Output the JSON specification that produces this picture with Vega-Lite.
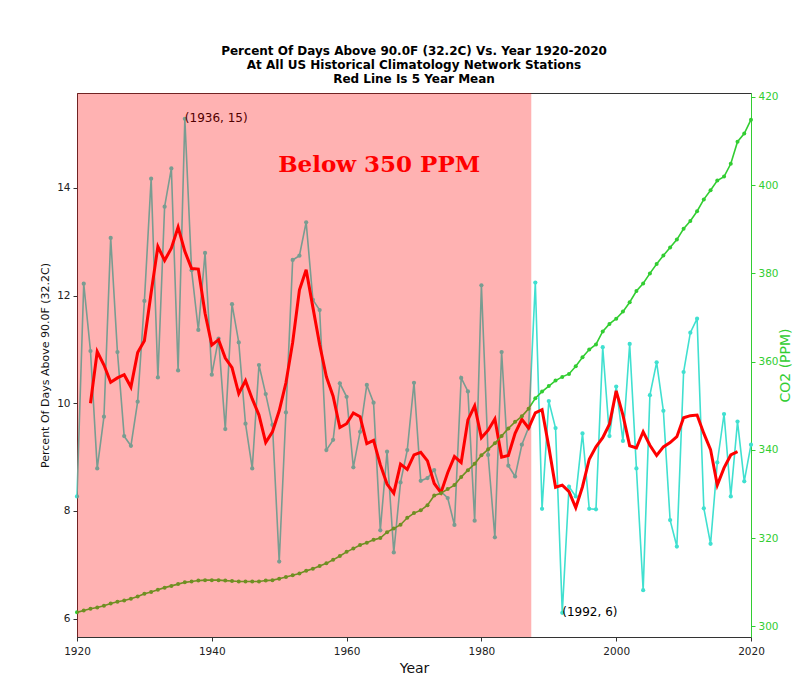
{
  "$schema": "https://vega.github.io/schema/vega-lite/v6.json",
  "width": 674,
  "height": 544,
  "autosize": {"type": "none"},
  "padding": {"left": 77, "top": 93, "right": 42, "bottom": 55},
  "background": "white",
  "config": {
    "view": {"stroke": "#333333", "strokeWidth": 1},
    "font": "DejaVu Sans",
    "axis": {"labelFont": "DejaVu Sans", "titleFont": "DejaVu Sans", "labelFontSize": 10.5, "grid": false, "tickSize": 4, "labelColor": "#222222", "titleColor": "#111111", "titleFontWeight": "normal", "zindex": 1, "labelFlush": false}
  },
  "title": {
    "text": ["Percent Of Days Above 90.0F (32.2C) Vs. Year 1920-2020", "At All US Historical Climatology Network Stations", "Red Line Is 5 Year Mean"],
    "fontSize": 12, "fontWeight": "bold", "font": "DejaVu Sans", "anchor": "middle", "lineHeight": 14, "offset": 6, "color": "#000000"
  },
  "datasets": {
    "temp": [
      {"year": 1920, "pct": 8.27}, {"year": 1921, "pct": 12.22}, {"year": 1922, "pct": 10.97}, {"year": 1923, "pct": 8.79}, {"year": 1924, "pct": 9.75},
      {"year": 1925, "pct": 13.07}, {"year": 1926, "pct": 10.95}, {"year": 1927, "pct": 9.39}, {"year": 1928, "pct": 9.21}, {"year": 1929, "pct": 10.03},
      {"year": 1930, "pct": 11.9}, {"year": 1931, "pct": 14.17}, {"year": 1932, "pct": 10.48}, {"year": 1933, "pct": 13.65}, {"year": 1934, "pct": 14.36},
      {"year": 1935, "pct": 10.61}, {"year": 1936, "pct": 15.28}, {"year": 1937, "pct": 12.47}, {"year": 1938, "pct": 11.36}, {"year": 1939, "pct": 12.79},
      {"year": 1940, "pct": 10.53}, {"year": 1941, "pct": 11.2}, {"year": 1942, "pct": 9.52}, {"year": 1943, "pct": 11.84}, {"year": 1944, "pct": 11.13},
      {"year": 1945, "pct": 9.62}, {"year": 1946, "pct": 8.79}, {"year": 1947, "pct": 10.71}, {"year": 1948, "pct": 10.17}, {"year": 1949, "pct": 9.6},
      {"year": 1950, "pct": 7.06}, {"year": 1951, "pct": 9.83}, {"year": 1952, "pct": 12.66}, {"year": 1953, "pct": 12.74}, {"year": 1954, "pct": 13.36},
      {"year": 1955, "pct": 11.92}, {"year": 1956, "pct": 11.73}, {"year": 1957, "pct": 9.13}, {"year": 1958, "pct": 9.32}, {"year": 1959, "pct": 10.37},
      {"year": 1960, "pct": 10.12}, {"year": 1961, "pct": 8.81}, {"year": 1962, "pct": 9.47}, {"year": 1963, "pct": 10.34}, {"year": 1964, "pct": 10.01},
      {"year": 1965, "pct": 7.64}, {"year": 1966, "pct": 9.1}, {"year": 1967, "pct": 7.23}, {"year": 1968, "pct": 8.53}, {"year": 1969, "pct": 9.13},
      {"year": 1970, "pct": 10.38}, {"year": 1971, "pct": 8.56}, {"year": 1972, "pct": 8.61}, {"year": 1973, "pct": 8.76}, {"year": 1974, "pct": 8.36},
      {"year": 1975, "pct": 8.24}, {"year": 1976, "pct": 7.74}, {"year": 1977, "pct": 10.47}, {"year": 1978, "pct": 10.22}, {"year": 1979, "pct": 7.82},
      {"year": 1980, "pct": 12.19}, {"year": 1981, "pct": 9.04}, {"year": 1982, "pct": 7.51}, {"year": 1983, "pct": 10.95}, {"year": 1984, "pct": 8.84},
      {"year": 1985, "pct": 8.64}, {"year": 1986, "pct": 9.23}, {"year": 1987, "pct": 9.55}, {"year": 1988, "pct": 12.24}, {"year": 1989, "pct": 8.04},
      {"year": 1990, "pct": 10.04}, {"year": 1991, "pct": 9.54}, {"year": 1992, "pct": 6.11}, {"year": 1993, "pct": 8.45}, {"year": 1994, "pct": 8.27},
      {"year": 1995, "pct": 9.44}, {"year": 1996, "pct": 8.04}, {"year": 1997, "pct": 8.03}, {"year": 1998, "pct": 11.04}, {"year": 1999, "pct": 9.39},
      {"year": 2000, "pct": 10.31}, {"year": 2001, "pct": 9.3}, {"year": 2002, "pct": 11.1}, {"year": 2003, "pct": 8.79}, {"year": 2004, "pct": 6.53},
      {"year": 2005, "pct": 10.15}, {"year": 2006, "pct": 10.76}, {"year": 2007, "pct": 9.86}, {"year": 2008, "pct": 7.83}, {"year": 2009, "pct": 7.34},
      {"year": 2010, "pct": 10.58}, {"year": 2011, "pct": 11.31}, {"year": 2012, "pct": 11.57}, {"year": 2013, "pct": 8.05}, {"year": 2014, "pct": 7.39},
      {"year": 2015, "pct": 8.9}, {"year": 2016, "pct": 9.8}, {"year": 2017, "pct": 8.27}, {"year": 2018, "pct": 9.66}, {"year": 2019, "pct": 8.55},
      {"year": 2020, "pct": 9.23}
    ],
    "mean5": [
      {"year": 1922, "pct": 10.0}, {"year": 1923, "pct": 10.96}, {"year": 1924, "pct": 10.71}, {"year": 1925, "pct": 10.39}, {"year": 1926, "pct": 10.47},
      {"year": 1927, "pct": 10.53}, {"year": 1928, "pct": 10.3}, {"year": 1929, "pct": 10.94}, {"year": 1930, "pct": 11.16}, {"year": 1931, "pct": 12.05},
      {"year": 1932, "pct": 12.91}, {"year": 1933, "pct": 12.65}, {"year": 1934, "pct": 12.88}, {"year": 1935, "pct": 13.27}, {"year": 1936, "pct": 12.82},
      {"year": 1937, "pct": 12.5}, {"year": 1938, "pct": 12.49}, {"year": 1939, "pct": 11.67}, {"year": 1940, "pct": 11.08}, {"year": 1941, "pct": 11.18},
      {"year": 1942, "pct": 10.84}, {"year": 1943, "pct": 10.66}, {"year": 1944, "pct": 10.18}, {"year": 1945, "pct": 10.42}, {"year": 1946, "pct": 10.08},
      {"year": 1947, "pct": 9.78}, {"year": 1948, "pct": 9.27}, {"year": 1949, "pct": 9.47}, {"year": 1950, "pct": 9.86}, {"year": 1951, "pct": 10.38},
      {"year": 1952, "pct": 11.13}, {"year": 1953, "pct": 12.1}, {"year": 1954, "pct": 12.48}, {"year": 1955, "pct": 11.78}, {"year": 1956, "pct": 11.09},
      {"year": 1957, "pct": 10.49}, {"year": 1958, "pct": 10.13}, {"year": 1959, "pct": 9.55}, {"year": 1960, "pct": 9.62}, {"year": 1961, "pct": 9.82},
      {"year": 1962, "pct": 9.75}, {"year": 1963, "pct": 9.25}, {"year": 1964, "pct": 9.31}, {"year": 1965, "pct": 8.86}, {"year": 1966, "pct": 8.5},
      {"year": 1967, "pct": 8.33}, {"year": 1968, "pct": 8.87}, {"year": 1969, "pct": 8.77}, {"year": 1970, "pct": 9.04}, {"year": 1971, "pct": 9.09},
      {"year": 1972, "pct": 8.93}, {"year": 1973, "pct": 8.51}, {"year": 1974, "pct": 8.34}, {"year": 1975, "pct": 8.71}, {"year": 1976, "pct": 9.01},
      {"year": 1977, "pct": 8.9}, {"year": 1978, "pct": 9.69}, {"year": 1979, "pct": 9.95}, {"year": 1980, "pct": 9.36}, {"year": 1981, "pct": 9.5},
      {"year": 1982, "pct": 9.71}, {"year": 1983, "pct": 9.0}, {"year": 1984, "pct": 9.03}, {"year": 1985, "pct": 9.44}, {"year": 1986, "pct": 9.7},
      {"year": 1987, "pct": 9.54}, {"year": 1988, "pct": 9.82}, {"year": 1989, "pct": 9.88}, {"year": 1990, "pct": 9.19}, {"year": 1991, "pct": 8.44},
      {"year": 1992, "pct": 8.48}, {"year": 1993, "pct": 8.36}, {"year": 1994, "pct": 8.06}, {"year": 1995, "pct": 8.45}, {"year": 1996, "pct": 8.96},
      {"year": 1997, "pct": 9.19}, {"year": 1998, "pct": 9.36}, {"year": 1999, "pct": 9.61}, {"year": 2000, "pct": 10.23}, {"year": 2001, "pct": 9.78},
      {"year": 2002, "pct": 9.21}, {"year": 2003, "pct": 9.17}, {"year": 2004, "pct": 9.47}, {"year": 2005, "pct": 9.22}, {"year": 2006, "pct": 9.03},
      {"year": 2007, "pct": 9.19}, {"year": 2008, "pct": 9.27}, {"year": 2009, "pct": 9.38}, {"year": 2010, "pct": 9.73}, {"year": 2011, "pct": 9.77},
      {"year": 2012, "pct": 9.78}, {"year": 2013, "pct": 9.44}, {"year": 2014, "pct": 9.14}, {"year": 2015, "pct": 8.48}, {"year": 2016, "pct": 8.8},
      {"year": 2017, "pct": 9.04}, {"year": 2018, "pct": 9.1}
    ],
    "co2": [
      {"year": 1920, "ppm": 303.2}, {"year": 1921, "ppm": 303.6}, {"year": 1922, "ppm": 304.0}, {"year": 1923, "ppm": 304.3}, {"year": 1924, "ppm": 304.7},
      {"year": 1925, "ppm": 305.2}, {"year": 1926, "ppm": 305.6}, {"year": 1927, "ppm": 305.9}, {"year": 1928, "ppm": 306.3}, {"year": 1929, "ppm": 306.8},
      {"year": 1930, "ppm": 307.4}, {"year": 1931, "ppm": 307.8}, {"year": 1932, "ppm": 308.3}, {"year": 1933, "ppm": 308.8}, {"year": 1934, "ppm": 309.2},
      {"year": 1935, "ppm": 309.6}, {"year": 1936, "ppm": 310.0}, {"year": 1937, "ppm": 310.2}, {"year": 1938, "ppm": 310.4}, {"year": 1939, "ppm": 310.5},
      {"year": 1940, "ppm": 310.5}, {"year": 1941, "ppm": 310.5}, {"year": 1942, "ppm": 310.4}, {"year": 1943, "ppm": 310.3}, {"year": 1944, "ppm": 310.2},
      {"year": 1945, "ppm": 310.2}, {"year": 1946, "ppm": 310.2}, {"year": 1947, "ppm": 310.2}, {"year": 1948, "ppm": 310.4}, {"year": 1949, "ppm": 310.5},
      {"year": 1950, "ppm": 310.8}, {"year": 1951, "ppm": 311.2}, {"year": 1952, "ppm": 311.6}, {"year": 1953, "ppm": 312.0}, {"year": 1954, "ppm": 312.6},
      {"year": 1955, "ppm": 313.1}, {"year": 1956, "ppm": 313.7}, {"year": 1957, "ppm": 314.3}, {"year": 1958, "ppm": 315.1}, {"year": 1959, "ppm": 315.97},
      {"year": 1960, "ppm": 316.91}, {"year": 1961, "ppm": 317.64}, {"year": 1962, "ppm": 318.45}, {"year": 1963, "ppm": 318.99}, {"year": 1964, "ppm": 319.62},
      {"year": 1965, "ppm": 320.04}, {"year": 1966, "ppm": 321.37}, {"year": 1967, "ppm": 322.18}, {"year": 1968, "ppm": 323.05}, {"year": 1969, "ppm": 324.62},
      {"year": 1970, "ppm": 325.68}, {"year": 1971, "ppm": 326.32}, {"year": 1972, "ppm": 327.46}, {"year": 1973, "ppm": 329.68}, {"year": 1974, "ppm": 330.19},
      {"year": 1975, "ppm": 331.13}, {"year": 1976, "ppm": 332.03}, {"year": 1977, "ppm": 333.84}, {"year": 1978, "ppm": 335.41}, {"year": 1979, "ppm": 336.84},
      {"year": 1980, "ppm": 338.76}, {"year": 1981, "ppm": 340.12}, {"year": 1982, "ppm": 341.48}, {"year": 1983, "ppm": 343.15}, {"year": 1984, "ppm": 344.87},
      {"year": 1985, "ppm": 346.35}, {"year": 1986, "ppm": 347.61}, {"year": 1987, "ppm": 349.31}, {"year": 1988, "ppm": 351.69}, {"year": 1989, "ppm": 353.2},
      {"year": 1990, "ppm": 354.45}, {"year": 1991, "ppm": 355.7}, {"year": 1992, "ppm": 356.54}, {"year": 1993, "ppm": 357.21}, {"year": 1994, "ppm": 358.96},
      {"year": 1995, "ppm": 360.97}, {"year": 1996, "ppm": 362.74}, {"year": 1997, "ppm": 363.88}, {"year": 1998, "ppm": 366.84}, {"year": 1999, "ppm": 368.54},
      {"year": 2000, "ppm": 369.71}, {"year": 2001, "ppm": 371.32}, {"year": 2002, "ppm": 373.45}, {"year": 2003, "ppm": 375.98}, {"year": 2004, "ppm": 377.7},
      {"year": 2005, "ppm": 379.98}, {"year": 2006, "ppm": 382.09}, {"year": 2007, "ppm": 384.02}, {"year": 2008, "ppm": 385.83}, {"year": 2009, "ppm": 387.64},
      {"year": 2010, "ppm": 390.1}, {"year": 2011, "ppm": 391.85}, {"year": 2012, "ppm": 394.06}, {"year": 2013, "ppm": 396.74}, {"year": 2014, "ppm": 398.81},
      {"year": 2015, "ppm": 401.01}, {"year": 2016, "ppm": 401.9}, {"year": 2017, "ppm": 404.8}, {"year": 2018, "ppm": 409.8}, {"year": 2019, "ppm": 411.66},
      {"year": 2020, "ppm": 414.8}
    ],
    "notes": [
      {"year": 1936, "pct": 15.28, "label": "(1936, 15)"},
      {"year": 1992, "pct": 6.11, "label": "(1992, 6)"}
    ],
    "span": [{"year": 1920, "yearEnd": 1987.4}],
    "banner": [{"year": 1964.83, "pct": 14.29, "label": "Below 350 PPM"}]
  },
  "encoding": {
    "x": {
      "field": "year", "type": "quantitative",
      "scale": {"domain": [1920, 2020], "nice": false, "zero": false},
      "axis": {"values": [1920, 1940, 1960, 1980, 2000, 2020], "format": "d", "title": "Year", "titleFontSize": 14, "tickColor": "#333333", "domainColor": "#333333", "labelPadding": 5, "titlePadding": 5}
    }
  },
  "layer": [
    {
      "encoding": {
        "y": {
          "field": "pct", "type": "quantitative",
          "scale": {"domain": [5.66, 15.76], "nice": false, "zero": false},
          "axis": {"orient": "left", "values": [6, 8, 10, 12, 14], "title": "Percent Of Days Above 90.0F (32.2C)", "titleFontSize": 11, "tickColor": "#333333", "domainColor": "#333333", "labelPadding": 3, "titlePadding": 6}
        }
      },
      "layer": [
        {"data": {"name": "temp"}, "mark": {"type": "line", "color": "#40E0D0", "strokeWidth": 1.6}},
        {"data": {"name": "temp"}, "mark": {"type": "point", "filled": true, "color": "#40E0D0", "size": 18, "opacity": 1}},
        {"data": {"name": "mean5"}, "mark": {"type": "line", "color": "#FF0000", "strokeWidth": 3}},
        {"data": {"name": "notes"}, "mark": {"type": "text", "align": "left", "baseline": "alphabetic", "fontSize": 12, "font": "DejaVu Sans", "color": "#000000", "dy": 3}, "encoding": {"text": {"field": "label"}}}
      ]
    },
    {
      "data": {"name": "co2"},
      "encoding": {
        "y": {
          "field": "ppm", "type": "quantitative",
          "scale": {"domain": [297.62, 420.84], "nice": false, "zero": false},
          "axis": {"orient": "right", "values": [300, 320, 340, 360, 380, 400, 420], "title": "CO2 (PPM)", "titleFontSize": 14, "titleAngle": 270, "titleColor": "#32CD32", "labelColor": "#32CD32", "tickColor": "#32CD32", "domainColor": "#32CD32", "labelPadding": 3, "titlePadding": 14}
        }
      },
      "layer": [
        {"mark": {"type": "line", "color": "#32CD32", "strokeWidth": 1.6}},
        {"mark": {"type": "point", "filled": true, "color": "#32CD32", "size": 16, "opacity": 1}}
      ]
    },
    {
      "layer": [
        {"data": {"name": "span"}, "mark": {"type": "rect", "color": "#FF0000", "opacity": 0.3}, "encoding": {"x2": {"field": "yearEnd"}}},
        {
          "data": {"name": "banner"},
          "mark": {"type": "text", "align": "center", "baseline": "alphabetic", "fontSize": 23, "font": "DejaVu Serif", "fontWeight": "bold", "color": "#FF0000"},
          "encoding": {
            "y": {"field": "pct", "type": "quantitative", "scale": {"domain": [5.66, 15.76], "nice": false, "zero": false}, "axis": null},
            "text": {"field": "label"}
          }
        }
      ]
    }
  ],
  "resolve": {"scale": {"y": "independent"}}
}
